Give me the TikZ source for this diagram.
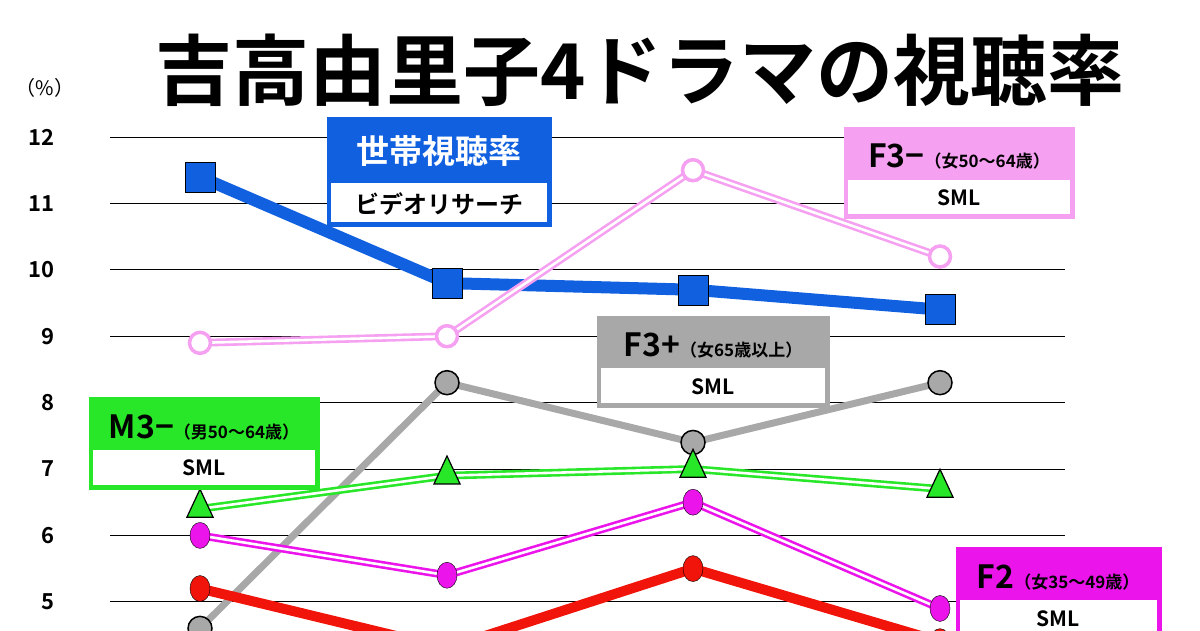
\documentclass[tikz,border=0pt]{standalone}
\usepackage{fontspec}
\setmainfont{Noto Sans CJK JP}[BoldFont={* Bold}]
\usetikzlibrary{shapes.geometric}
\definecolor{hhblue}{RGB}{16,96,224}
\definecolor{fpink}{RGB}{245,160,240}
\definecolor{fmag}{RGB}{235,20,235}
\definecolor{mgreen}{RGB}{40,230,40}
\definecolor{fgray}{RGB}{168,168,168}
\definecolor{rred}{RGB}{240,20,10}
\newcommand{\fs}[1]{\fontsize{#1}{#1}\selectfont\bfseries}
\begin{document}
\begin{tikzpicture}[x=1pt,y=-1pt,
    grid/.style={black,line width=1pt},
    ylab/.style={anchor=east,font=\fs{22}},
    blusq/.style={rectangle,draw=black,fill=hhblue,minimum size=30pt,inner sep=0pt},
    pinkc/.style={circle,draw=fpink,line width=3.5pt,fill=white,minimum size=21pt,inner sep=0pt},
    grayc/.style={circle,draw=black,line width=1.5pt,fill=fgray,minimum size=24pt,inner sep=0pt},
    magc/.style={ellipse,draw=black,fill=fmag,minimum width=20pt,minimum height=26pt,inner sep=0pt},
    redc/.style={ellipse,draw=black,fill=rred,minimum width=20pt,minimum height=26pt,inner sep=0pt},
    grtri/.style={isosceles triangle,isosceles triangle apex angle=50,shape border rotate=90,draw=black,line width=1.2pt,fill=mgreen,minimum width=26pt,minimum height=28pt,inner sep=0pt},
    dbl/.style={line width=2.6pt,double=white,double distance=2.6pt},
  ]
  \useasboundingbox (0,0) rectangle (1200,630);
  \clip (0,0) rectangle (1200,630);

  % title
  \node (title) at (640,70) {\fs{77}吉高由里子4ドラマの視聴率};
  \node (pct) at (45,88) {\fontsize{20}{20}\selectfont （\%）};

  % grid
  \foreach \v in {5,...,12} {
    \draw[grid] (110,{137+(12-\v)*66.4}) -- (1065,{137+(12-\v)*66.4});
    \node[ylab] (y\v) at (58,{137+(12-\v)*66.4}) {\v};
  }

  % data points
  \foreach \s/\a/\b/\c/\d in {b/11.4/9.8/9.7/9.4, p/8.9/9.0/11.5/10.2, g/4.6/8.3/7.4/8.3,
      t/6.4/6.9/7.0/6.7, m/6.0/5.4/6.5/4.9, r/5.2/4.3/5.5/4.4} {
    \coordinate (\s1) at (200,{137+(12-\a)*66.4});
    \coordinate (\s2) at (447,{137+(12-\b)*66.4});
    \coordinate (\s3) at (693,{137+(12-\c)*66.4});
    \coordinate (\s4) at (940,{137+(12-\d)*66.4});
  }

  % lines
  \draw[hhblue,line width=12pt] (b1) -- (b2) -- (b3) -- (b4);
  \draw[dbl,draw=fpink] (p1) -- (p2) -- (p3) -- (p4);
  \draw[fgray,line width=7pt] (g1) -- (g2) -- (g3) -- (g4);
  \draw[dbl,draw=mgreen] (t1) -- (t2) -- (t3) -- (t4);
  \draw[dbl,draw=fmag] (m1) -- (m2) -- (m3) -- (m4);
  \draw[rred,line width=10pt] (r1) -- (r2) -- (r3) -- (r4);

  % markers
  \foreach \i in {1,...,4} {
    \node[blusq] (B\i) at (b\i) {};
    \node[pinkc] (P\i) at (p\i) {};
    \node[grayc] (G\i) at (g\i) {};
    \node[grtri] (T\i) at (t\i) {};
    \node[magc] (M\i) at (m\i) {};
    \node[redc] (R\i) at (r\i) {};
  }

  % legend boxes
  \filldraw[draw=hhblue,fill=hhblue,line width=3pt] (328,118) rectangle (550,225);
  \fill[white] (331,183) rectangle (547,222);
  \node (hhtop) at (439,151) {\color{white}\fs{33}世帯視聴率};
  \node (hhbot) at (439,204) {\fs{24}ビデオリサーチ};

  \filldraw[draw=fpink,fill=fpink,line width=3pt] (845,128) rectangle (1073,217);
  \fill[white] (848,180) rectangle (1070,214);
  \node (f3mtop) at (959,156) {\fs{32}F3−\fs{17}（女50〜64歳）};
  \node (f3mbot) at (959,198) {\fs{21}SML};

  \filldraw[draw=fgray,fill=fgray,line width=3pt] (598,317) rectangle (828,406);
  \fill[white] (601,368) rectangle (825,403);
  \node (f3ptop) at (713,345) {\fs{32}F3+\fs{17}（女65歳以上）};
  \node (f3pbot) at (713,387) {\fs{21}SML};

  \filldraw[draw=mgreen,fill=mgreen,line width=3pt] (90,398) rectangle (318,488);
  \fill[white] (93,450) rectangle (315,485);
  \node (m3top) at (204,427) {\fs{32}M3−\fs{17}（男50〜64歳）};
  \node (m3bot) at (204,468) {\fs{21}SML};

  \filldraw[draw=fmag,fill=fmag,line width=3pt] (957,548) rectangle (1160,640);
  \fill[white] (960,600) rectangle (1157,640);
  \node (f2top) at (1058,577) {\fs{32}F2\fs{17}（女35〜49歳）};
  \node (f2bot) at (1058,619) {\fs{21}SML};
\end{tikzpicture}
\end{document}
